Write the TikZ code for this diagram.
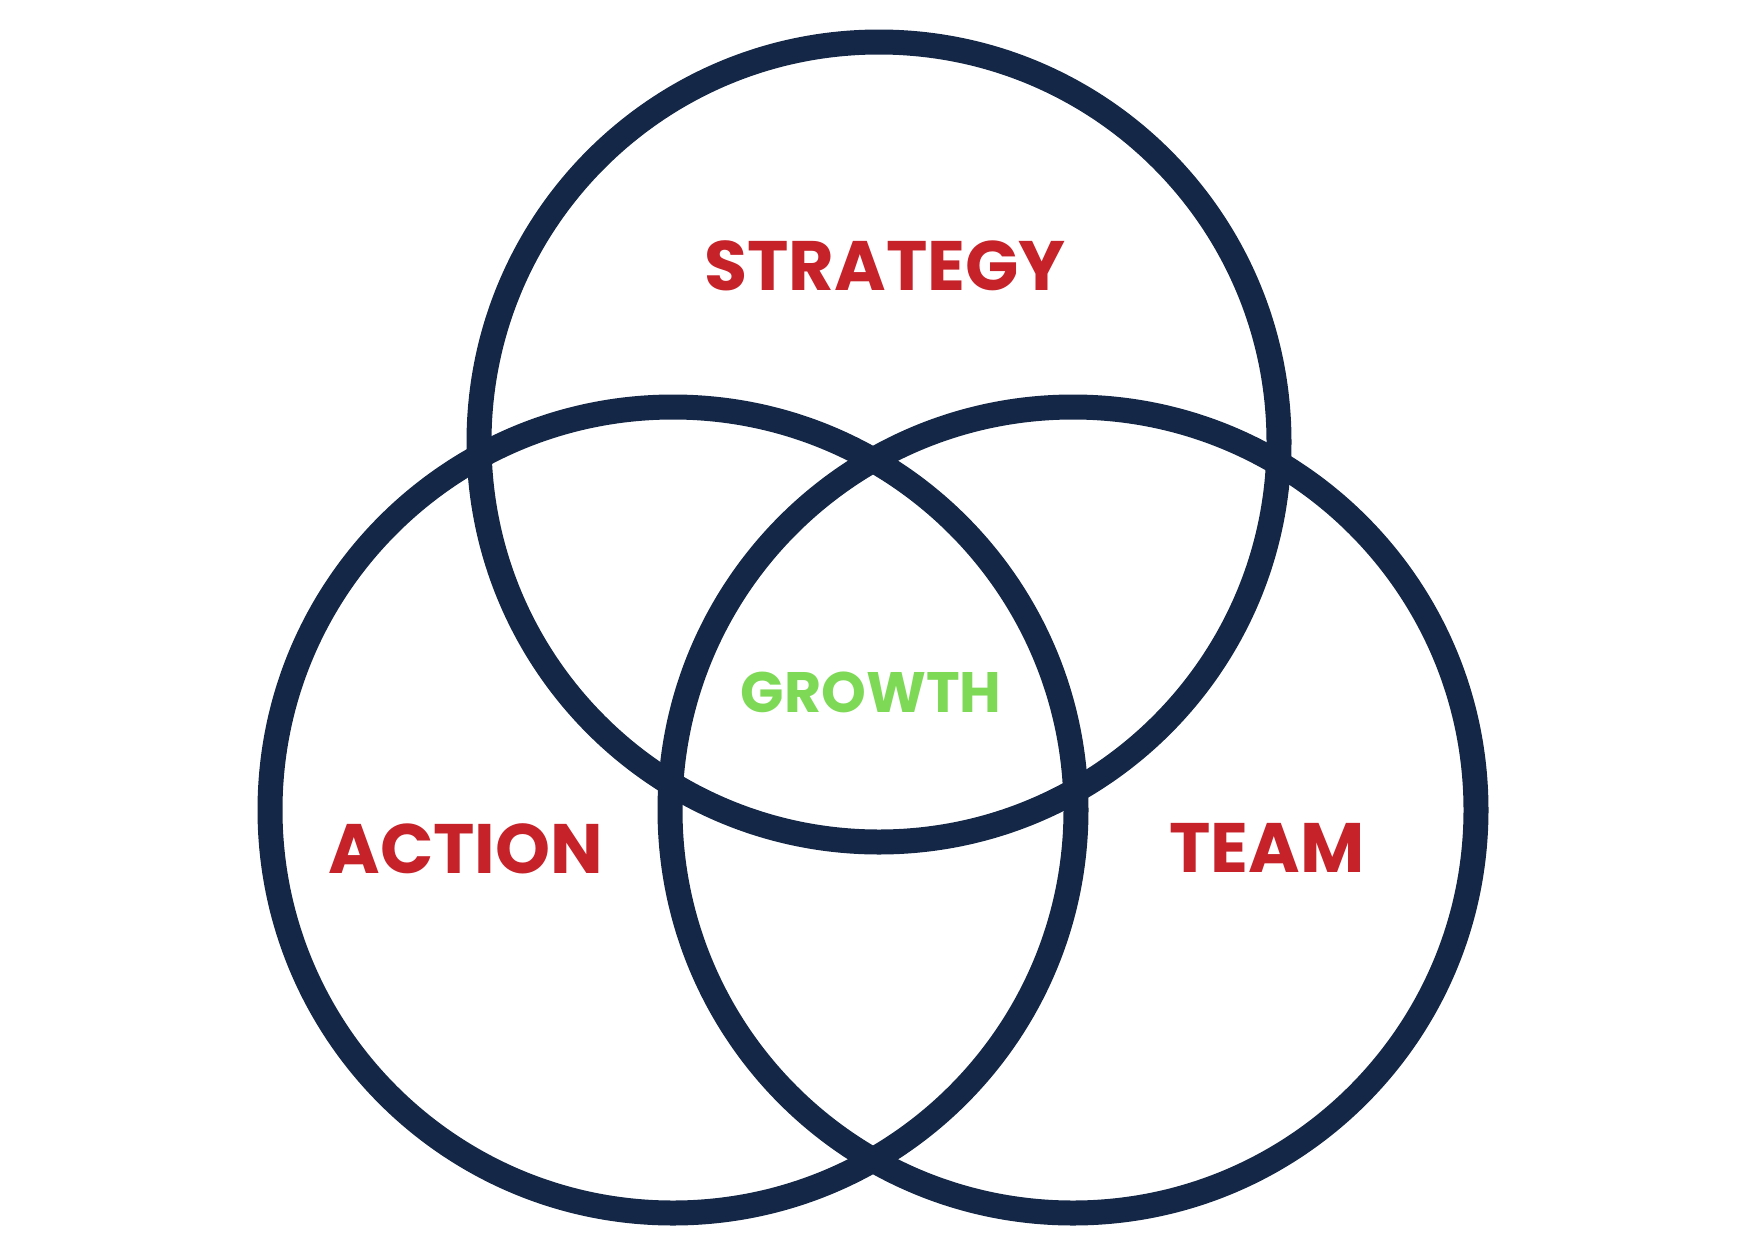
\documentclass[tikz,border=0pt]{standalone}
\usepackage{fontspec}
\setmainfont{Poppins}
\begin{document}
\begin{tikzpicture}[x=1pt,y=-1pt,font=\bfseries]
\definecolor{ring}{HTML}{142746}\definecolor{word}{HTML}{C5222A}
\definecolor{core}{HTML}{7ED957}
\tikzset{vring/.style={draw=ring,line width=25pt},
  vword/.style={text=word,inner sep=0pt,font=\bfseries\fontsize{70}{80}\selectfont},
  vcore/.style={text=core,inner sep=0pt,font=\bfseries\fontsize{57}{66}\selectfont}}
\useasboundingbox (0,0) rectangle (1748,1240);
\draw[vring] (879,442) circle (400);
\draw[vring] (673,810) circle (403);
\draw[vring] (1073,810) circle (403);
\node[vword] (strategy) at (885,266) {STRATEGY};
\node[vword] (action) at (466,849) {ACTION};
\node[vword] (team) at (1267,848) {TEAM};
\node[vcore] (growth) at (871,692) {GROWTH};
\end{tikzpicture}
\end{document}
